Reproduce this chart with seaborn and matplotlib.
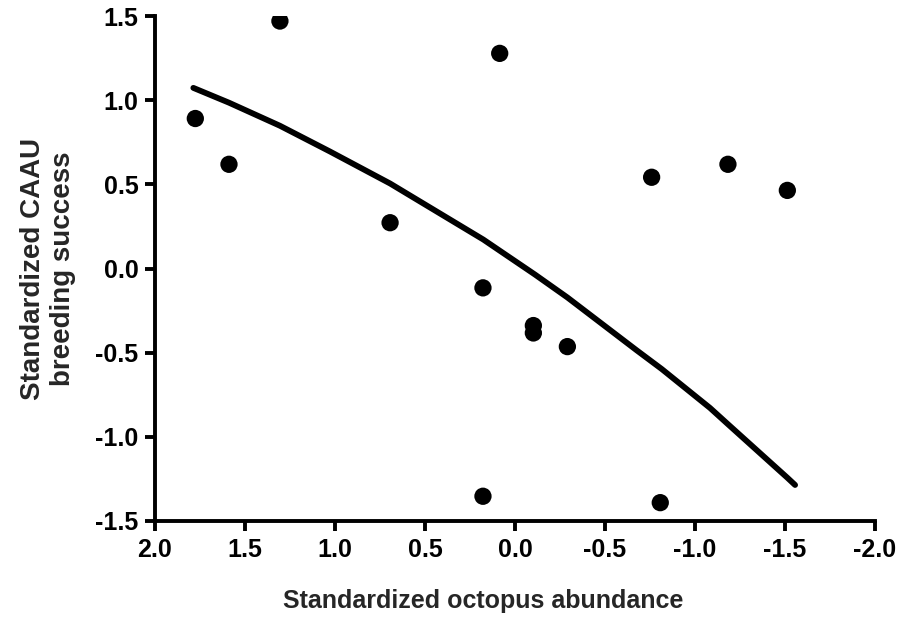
import matplotlib
matplotlib.use("Agg")
import matplotlib.pyplot as plt
import seaborn as sns
import pandas as pd

# Observed points (standardized octopus abundance, standardized CAAU breeding success)
octopus = [1.776, 1.589, 1.306, 0.694, 0.085, 0.178, -0.102, -0.102, -0.291,
           0.178, -0.759, -1.183, -1.513, -0.807]
success = [0.891, 0.619, 1.470, 0.272, 1.278, -0.115, -0.339, -0.383, -0.464,
           -1.353, 0.542, 0.619, 0.464, -1.391]

# Fitted curve
curve_x = [1.787, 1.589, 1.306, 1.028, 0.694, 0.176, 0.085, -0.111, -0.291,
           -0.676, -0.815, -1.083, -1.183, -1.513, -1.556]
curve_y = [1.073, 0.985, 0.848, 0.695, 0.505, 0.172, 0.106, -0.036, -0.172,
           -0.486, -0.597, -0.828, -0.925, -1.243, -1.286]

x_ticks = [2.0, 1.5, 1.0, 0.5, 0.0, -0.5, -1.0, -1.5, -2.0]
y_ticks = [-1.5, -1.0, -0.5, 0.0, 0.5, 1.0, 1.5]

sns.set_theme(style="ticks")
plt.rcParams['font.family'] = ['Liberation Sans', 'DejaVu Sans']
plt.rcParams['font.weight'] = 'bold'

fig = plt.figure(figsize=(9.15, 6.2), dpi=100)
ax = fig.add_axes([155/915, 1 - 521/620, 720/915, 505/620])

pts = pd.DataFrame({"x": octopus, "y": success})
crv = pd.DataFrame({"x": curve_x, "y": curve_y})

sns.lineplot(data=crv, x="x", y="y", ax=ax, color="black", linewidth=4.2,
             sort=False, estimator=None)
sns.scatterplot(data=pts, x="x", y="y", ax=ax, color="black", s=155,
                edgecolor="none", zorder=3)

ax.set_xlim(2.0, -2.0)
ax.set_ylim(-1.5, 1.5)
ax.set_xticks(x_ticks)
ax.set_yticks(y_ticks)
ax.set_xticklabels([f"{v:.1f}" for v in x_ticks], fontsize=18, fontweight="bold")
ax.set_yticklabels([f"{v:.1f}" for v in y_ticks], fontsize=18, fontweight="bold")

for side in ["top", "right"]:
    ax.spines[side].set_visible(False)
for side in ["left", "bottom"]:
    ax.spines[side].set_linewidth(2.8)
    ax.spines[side].set_color("black")
ax.tick_params(axis="both", direction="out", length=7, width=2.8, color="black",
               pad=5, labelcolor="black")

ax.set_xlabel("Standardized octopus abundance", fontsize=18, fontweight="bold")
ax.xaxis.set_label_coords(0.456, -0.135)
ax.set_ylabel("Standardized CAAU\nbreeding success", fontsize=20, fontweight="bold",
              labelpad=14, linespacing=1.2)

fig.savefig("out.png", dpi=100)
